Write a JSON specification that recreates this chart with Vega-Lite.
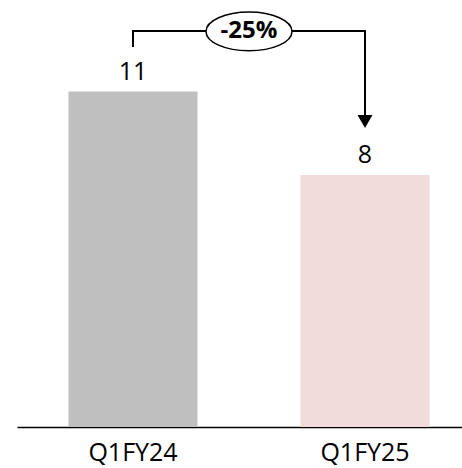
{
  "$schema": "https://vega.github.io/schema/vega-lite/v6.json",
  "width": 445,
  "height": 427,
  "autosize": "none",
  "padding": {"left": 17, "top": 0, "right": 0, "bottom": 41},
  "background": "white",
  "config": {"view": {"stroke": null}, "font": "Open Sans"},
  "layer": [
    {
      "data": {"values": [{"cat": "Q1FY24", "value": 11}, {"cat": "Q1FY25", "value": 8.26}]},
      "mark": {"type": "bar"},
      "encoding": {
        "x": {
          "field": "cat", "type": "nominal", "sort": null,
          "scale": {"range": [0, 464], "paddingInner": 0.444, "paddingOuter": 0.222},
          "axis": {"title": null, "labelAngle": 0, "ticks": false, "tickSize": 0, "labelPadding": 13, "labelFontSize": 25, "labelColor": "black", "labelFont": "Open Sans", "domainColor": "black", "domainWidth": 1.5, "grid": false}
        },
        "y": {"field": "value", "type": "quantitative", "scale": {"domain": [0, 14]}, "axis": null},
        "color": {"field": "cat", "type": "nominal", "scale": {"range": ["#BFBFBF", "#F2DCDB"]}, "legend": null}
      }
    },
    {
      "data": {"values": [{"cat": "Q1FY24", "value": 11}, {"cat": "Q1FY25", "value": 8.26}]},
      "mark": {"type": "text", "baseline": "alphabetic", "dy": -12, "fontSize": 25, "color": "black", "font": "Open Sans"},
      "encoding": {
        "x": {"field": "cat", "type": "nominal", "sort": null},
        "y": {"field": "value", "type": "quantitative"},
        "text": {"field": "value", "type": "quantitative", "format": ".0f"}
      }
    },
    {
      "data": {"values": [
        {"i": 1, "cat": "Q1FY24", "v": 12.46},
        {"i": 2, "cat": "Q1FY24", "v": 12.98},
        {"i": 3, "cat": "Q1FY25", "v": 12.98},
        {"i": 4, "cat": "Q1FY25", "v": 10.15}
      ]},
      "mark": {"type": "line", "color": "black", "strokeWidth": 2, "interpolate": "linear"},
      "encoding": {
        "x": {"field": "cat", "type": "nominal", "sort": null},
        "y": {"field": "v", "type": "quantitative"},
        "order": {"field": "i", "type": "quantitative"}
      }
    },
    {
      "data": {"values": [{"cat": "Q1FY25", "v": 10.02}]},
      "mark": {"type": "point", "shape": "triangle-down", "size": 225, "filled": true, "color": "black", "opacity": 1},
      "encoding": {
        "x": {"field": "cat", "type": "nominal", "sort": null},
        "y": {"field": "v", "type": "quantitative"}
      }
    },
    {
      "data": {"values": [{"cat": "Q1FY24", "v": 12.97, "label": "-25%"}]},
      "mark": {"type": "point", "shape": "M-1,0A1,0.45,0,1,1,1,0A1,0.45,0,1,1,-1,0Z", "size": 7396, "filled": true, "fill": "white", "stroke": "black", "strokeWidth": 1.5, "opacity": 1, "xOffset": 116},
      "encoding": {
        "x": {"field": "cat", "type": "nominal", "sort": null},
        "y": {"field": "v", "type": "quantitative"}
      }
    },
    {
      "data": {"values": [{"cat": "Q1FY24", "v": 12.97, "label": "-25%"}]},
      "mark": {"type": "text", "fontSize": 24, "fontWeight": "bold", "color": "black", "font": "Open Sans", "baseline": "middle", "xOffset": 116},
      "encoding": {
        "x": {"field": "cat", "type": "nominal", "sort": null},
        "y": {"field": "v", "type": "quantitative"},
        "text": {"field": "label", "type": "nominal"}
      }
    }
  ]
}
